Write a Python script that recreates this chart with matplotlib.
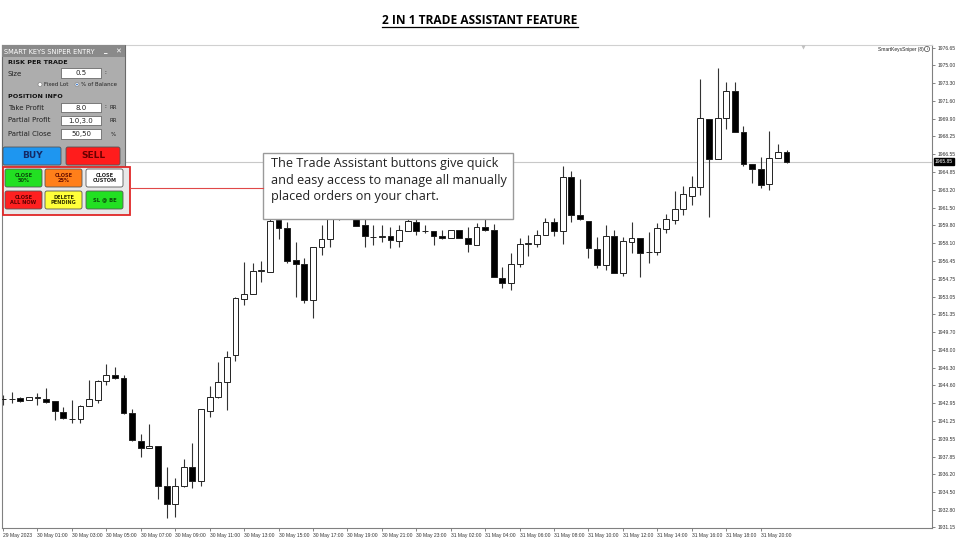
import matplotlib
matplotlib.use("Agg")
import matplotlib.pyplot as plt
from matplotlib.patches import Rectangle, FancyBboxPatch, Circle
import numpy as np

# ---------------- data (XAUUSD M30 candles) ----------------
opens = [1943.31, 1943.35, 1943.40, 1943.21, 1943.40, 1943.31, 1943.12, 1942.07, 1941.40, 1941.40,
         1942.64, 1943.21, 1945.02, 1945.59, 1945.30, 1941.97, 1939.31, 1938.65, 1938.84, 1935.04,
         1933.33, 1935.04, 1936.84, 1935.51, 1942.16, 1943.50, 1944.92, 1947.49, 1952.81, 1953.28,
         1955.46, 1955.37, 1960.31, 1959.55, 1956.51, 1956.13, 1952.71, 1957.75, 1958.50, 1961.20,
         1961.00, 1960.90, 1959.83, 1958.70, 1958.69, 1958.79, 1958.31, 1959.26, 1960.12, 1959.26,
         1959.26, 1958.79, 1958.60, 1959.36, 1958.60, 1957.94, 1959.64, 1959.36, 1954.80, 1954.33,
         1956.13, 1958.03, 1958.03, 1958.88, 1960.12, 1959.26, 1964.40, 1960.79, 1960.22, 1957.56,
         1956.04, 1958.79, 1955.28, 1958.22, 1958.60, 1957.27, 1957.27, 1959.46, 1960.31, 1961.35,
         1962.59, 1963.45, 1969.90, 1966.11, 1970.00, 1972.57, 1968.67, 1965.63, 1965.16, 1963.73,
         1966.20, 1966.77]
closes = [1943.30, 1943.30, 1943.12, 1943.50, 1943.42, 1943.02, 1942.17, 1941.50, 1941.38, 1942.64,
          1943.31, 1945.02, 1945.59, 1945.30, 1941.97, 1939.41, 1938.65, 1938.84, 1935.04, 1933.33,
          1935.04, 1936.84, 1935.51, 1942.35, 1943.50, 1944.92, 1947.30, 1952.90, 1953.28, 1955.46,
          1955.50, 1960.22, 1959.55, 1956.42, 1956.13, 1952.71, 1957.75, 1958.50, 1960.79, 1961.00,
          1961.50, 1959.74, 1958.79, 1958.68, 1958.70, 1958.41, 1959.36, 1960.22, 1959.26, 1959.24,
          1958.79, 1958.60, 1959.36, 1958.60, 1958.03, 1959.64, 1959.36, 1954.90, 1954.33, 1956.13,
          1958.03, 1958.05, 1958.88, 1960.12, 1959.26, 1964.40, 1960.79, 1960.40, 1957.65, 1956.04,
          1958.79, 1955.28, 1958.31, 1958.60, 1957.17, 1957.25, 1959.55, 1960.40, 1961.35, 1962.78,
          1963.45, 1970.00, 1966.11, 1970.00, 1972.57, 1968.67, 1965.63, 1965.16, 1963.64, 1966.20,
          1966.77, 1965.82]
highs = [1943.68, 1943.97, 1943.50, 1943.52, 1943.87, 1944.35, 1943.12, 1942.54, 1943.21, 1942.73,
         1945.11, 1945.11, 1946.63, 1946.35, 1945.59, 1942.35, 1939.98, 1940.93, 1938.84, 1936.84,
         1935.80, 1937.60, 1939.12, 1942.35, 1944.54, 1946.82, 1947.87, 1953.00, 1956.32, 1956.22,
         1956.41, 1961.07, 1960.88, 1960.12, 1958.22, 1956.70, 1957.75, 1959.83, 1961.74, 1961.90,
         1962.00, 1961.30, 1960.40, 1959.83, 1959.83, 1959.64, 1959.83, 1960.60, 1960.60, 1959.83,
         1959.26, 1959.36, 1959.36, 1959.36, 1959.64, 1960.02, 1960.50, 1959.93, 1955.84, 1957.17,
         1958.60, 1958.88, 1959.36, 1960.50, 1960.50, 1965.44, 1964.97, 1964.21, 1960.22, 1958.70,
         1959.83, 1959.36, 1958.70, 1960.12, 1958.60, 1959.17, 1960.02, 1960.88, 1963.07, 1963.54,
         1964.49, 1973.71, 1969.90, 1974.75, 1973.42, 1973.42, 1969.24, 1965.63, 1966.30, 1968.77,
         1967.53, 1966.96]
lows = [1942.73, 1942.92, 1943.02, 1943.19, 1942.73, 1942.92, 1941.31, 1941.40, 1941.02, 1941.02,
        1942.64, 1942.92, 1944.64, 1945.20, 1941.88, 1939.31, 1937.80, 1938.65, 1933.80, 1931.99,
        1932.09, 1934.94, 1934.85, 1935.04, 1941.59, 1943.40, 1942.26, 1946.92, 1952.24, 1953.28,
        1954.42, 1955.37, 1958.50, 1956.23, 1953.00, 1952.42, 1951.00, 1956.98, 1957.75, 1960.30,
        1960.70, 1959.70, 1957.75, 1957.94, 1958.22, 1957.65, 1957.75, 1959.26, 1958.88, 1959.07,
        1957.94, 1958.50, 1958.60, 1958.60, 1957.27, 1957.94, 1959.26, 1954.90, 1953.85, 1953.66,
        1955.84, 1956.89, 1957.75, 1958.88, 1958.79, 1958.03, 1960.12, 1960.31, 1956.70, 1955.75,
        1955.56, 1955.28, 1954.99, 1957.17, 1954.90, 1956.23, 1956.98, 1959.07, 1959.93, 1960.79,
        1961.74, 1962.69, 1960.60, 1966.11, 1968.95, 1968.67, 1965.44, 1963.82, 1963.35, 1963.16,
        1966.20, 1965.72]

ytick_labels = ["1931.15", "1932.80", "1934.50", "1936.20", "1937.85", "1939.55", "1941.25",
                "1942.95", "1944.60", "1946.30", "1948.00", "1949.70", "1951.35", "1953.05",
                "1954.75", "1956.45", "1958.10", "1959.80", "1961.50", "1963.20", "1964.85",
                "1966.55", "1968.25", "1969.90", "1971.60", "1973.30", "1975.00", "1976.65"]
xtick_labels = ["29 May 2023", "30 May 01:00", "30 May 03:00", "30 May 05:00", "30 May 07:00",
                "30 May 09:00", "30 May 11:00", "30 May 13:00", "30 May 15:00", "30 May 17:00",
                "30 May 19:00", "30 May 21:00", "30 May 23:00", "31 May 02:00", "31 May 04:00",
                "31 May 06:00", "31 May 08:00", "31 May 10:00", "31 May 12:00", "31 May 14:00",
                "31 May 16:00", "31 May 18:00", "31 May 20:00"]
current_price = 1965.85
title = "2 IN 1 TRADE ASSISTANT FEATURE"
note = "The Trade Assistant buttons give quick\nand easy access to manage all manually\nplaced orders on your chart."

# ---------------- figure ----------------
W, H = 960, 540
fig = plt.figure(figsize=(9.6, 5.4), dpi=100)
fig.patch.set_facecolor("white")


def px(x0, y0, x1, y1):
    return [x0 / W, 1 - y1 / H, (x1 - x0) / W, (y1 - y0) / H]


ax = fig.add_axes(px(2, 45, 932, 528))
o = np.array(opens); c = np.array(closes); hi = np.array(highs); lo = np.array(lows)
n = len(o)
idx = np.arange(n)
step = 8.61
ax.set_xlim(-1 / step, -1 / step + 930 / step)
ax.set_ylim(1931.065, 1976.935)

ax.axhline(current_price, color="#c8c8c8", lw=0.8, zorder=1)
ax.vlines(idx, lo, hi, color="#333333", lw=0.8, zorder=2)
up = c >= o
body_lo = np.minimum(o, c)
body_h = np.maximum(np.abs(c - o), 0.06)
ax.bar(idx, body_h, bottom=body_lo, width=0.68,
       color=np.where(up, "white", "black"), edgecolor="#222222", linewidth=0.7, zorder=3)

tick_font = dict(fontsize=3.6, family="Liberation Sans", color="#333333")
ax.yaxis.tick_right()
ax.set_yticks([float(s) for s in ytick_labels])
ax.set_yticklabels(ytick_labels, **tick_font)
ax.set_xticks(idx[::4][:len(xtick_labels)])
ax.set_xticklabels(xtick_labels, **tick_font)
for lab in ax.get_xticklabels():
    lab.set_horizontalalignment("left")
ax.tick_params(axis="both", length=2.5, width=0.5, color="#555555", pad=1.2)
for s in ax.spines.values():
    s.set_color("#808080")
    s.set_linewidth(0.8)
ax.spines["top"].set_color("#d0d0d0")

ax.text(1.003, current_price, "1965.85", transform=ax.get_yaxis_transform(),
        fontsize=3.6, family="Liberation Sans", color="white", va="center", ha="left",
        bbox=dict(boxstyle="square,pad=0.25", fc="black", ec="black"), zorder=6)

# ---------------- overlay (pixel coords) ----------------
ov = fig.add_axes([0, 0, 1, 1])
ov.set_xlim(0, W)
ov.set_ylim(H, 0)
ov.axis("off")
ov.patch.set_alpha(0)
ov.set_zorder(5)

t = ov.text(480, 20, title, ha="center", va="center", fontsize=8.6, fontweight="bold",
            family="Open Sans", color="black")

ov.text(878, 49, "SmartKeysSniper (8)", fontsize=3.5, family="Liberation Sans",
        va="center", ha="left", color="#222222")
ov.add_patch(Circle((927, 49), 2.6, fc="white", ec="#444444", lw=0.5))
ov.text(927, 49, "i", fontsize=3.2, ha="center", va="center", color="#444444")
ov.plot([803], [46.5], marker="v", ms=3, color="#c0c0c0", mec="none")

# connector line and note box
ov.plot([130, 263], [188, 188], color="#e04848", lw=0.8)
ov.add_patch(Rectangle((263, 153), 250, 66, fc="white", ec="#9a9a9a", lw=1.0))
ov.text(271, 157, note, fontsize=9.1, family="Open Sans", color="#222222",
        va="top", ha="left", linespacing=1.36)

# panel
ov.add_patch(Rectangle((2, 45), 123, 122, fc="#adadad", ec="#6a6a6a", lw=0.8))
ov.add_patch(Rectangle((2, 45), 123, 12, fc="#8a8a8a", ec="none"))
ov.text(4, 51.5, "SMART KEYS SNIPER ENTRY", color="white", fontsize=4.8, va="center",
        ha="left", family="DejaVu Sans")
ov.text(106, 50.5, "_", color="white", fontsize=5, va="center", ha="center", fontweight="bold")
ov.text(118, 51.5, "\u2715", color="white", fontsize=5, va="center", ha="center",
        family="DejaVu Sans", fontweight="bold")

fs = 4.6
ov.text(8, 63, "RISK PER TRADE", fontsize=fs, fontweight="bold", va="center", color="#111111")
ov.text(8, 74, "Size", fontsize=fs + 0.4, va="center", color="#222222")
ov.text(8, 96, "POSITION INFO", fontsize=fs, fontweight="bold", va="center", color="#111111")


def field(y0, y1, txt, unit):
    ov.add_patch(Rectangle((61, y0), 40, y1 - y0, fc="white", ec="#555555", lw=0.5))
    ov.text(81, (y0 + y1) / 2, txt, fontsize=fs + 0.4, ha="center", va="center", color="#222222")
    if unit:
        ov.text(113, (y0 + y1) / 2, unit, fontsize=fs - 0.6, ha="center", va="center", color="#222222")


field(68, 78, "0.5", "")
ov.text(105, 73, "\u2236", fontsize=5, ha="center", va="center", color="#444444")
ov.add_patch(Circle((40, 84.5), 2, fc="white", ec="#777777", lw=0.4))
ov.text(44, 84.5, "Fixed Lot", fontsize=fs - 0.6, va="center", color="#222222")
ov.add_patch(Circle((77, 84.5), 2, fc="white", ec="#777777", lw=0.4))
ov.add_patch(Circle((77, 84.5), 0.9, fc="#2a6fc9", ec="none"))
ov.text(81, 84.5, "% of Balance", fontsize=fs - 0.6, va="center", color="#222222")

ov.text(8, 107.5, "Take Profit", fontsize=fs + 0.4, va="center", color="#222222")
field(103, 112, "8.0", "RR")
ov.text(105, 107.5, "\u2236", fontsize=5, ha="center", va="center", color="#444444")
ov.text(8, 120.5, "Partial Profit", fontsize=fs + 0.4, va="center", color="#222222")
field(116, 125, "1.0,3.0", "RR")
ov.text(8, 134, "Partial Close", fontsize=fs + 0.4, va="center", color="#222222")
field(129, 139, "50,50", "%")


def button(x0, y0, x1, y1, fc, txt, tc, size, ec="#555555"):
    ov.add_patch(FancyBboxPatch((x0, y0), x1 - x0, y1 - y0,
                                boxstyle="round,pad=0,rounding_size=2",
                                fc=fc, ec=ec, lw=0.6))
    ov.text((x0 + x1) / 2, (y0 + y1) / 2, txt, fontsize=size, fontweight="bold",
            color=tc, ha="center", va="center", linespacing=1.0)


button(3, 147, 61, 165, "#1e96f0", "BUY", "#142a66", 6.5)
button(66, 147, 120, 165, "#ff1c1c", "SELL", "#6a0000", 6.5)

ov.add_patch(Rectangle((3, 166.5), 127, 48.5, fc="#e8e8e8", ec="#e02828", lw=1.3))
button(5, 169, 42, 187, "#22e022", "CLOSE\n50%", "#0a4a0a", 3.6)
button(45, 169, 82, 187, "#ff7f1a", "CLOSE\n25%", "#6a1000", 3.6)
button(86, 169, 123, 187, "white", "CLOSE\nCUSTOM", "#222222", 3.6)
button(5, 191, 42, 209, "#ff2020", "CLOSE\nALL NOW", "#5a0000", 3.6)
button(45, 191, 82, 209, "#ffff3a", "DELETE\nPENDING", "#333300", 3.6)
button(86, 191, 123, 209, "#22e022", "SL @ BE", "#0a4a0a", 3.8)

# underline title
fig.canvas.draw()
bb = t.get_window_extent(renderer=fig.canvas.get_renderer())
inv = ov.transData.inverted()
(xa, ya), (xb, yb) = inv.transform([(bb.x0, bb.y0), (bb.x1, bb.y1)])
ov.plot([xa, xb], [ya + 0.5, ya + 0.5], color="black", lw=0.9)

fig.savefig("out.png", dpi=100, facecolor="white")
